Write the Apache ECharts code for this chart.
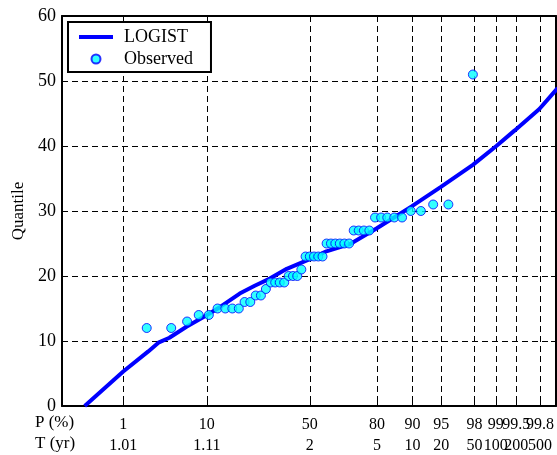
<!DOCTYPE html>
<html>
<head>
<meta charset="utf-8">
<script src="https://cdn.jsdelivr.net/npm/echarts@6/dist/echarts.min.js"></script>
<style>
  html, body { margin: 0; padding: 0; background: #fff; }
  #chart { width: 557px; height: 455px; }
</style>
</head>
<body>
<div id="chart"></div>
<script>
// probability ticks
var probTicks = [1, 10, 50, 80, 90, 95, 98, 99, 99.5, 99.8];
var probLabels = ['1', '10', '50', '80', '90', '95', '98', '99', '99.5', '99.8'];
var periodLabels = ['1.01', '1.11', '2', '5', '10', '20', '50', '100', '200', '500'];

// fitted LOGIST curve (P in %, quantile)
var curveP = [0.25, 1.0, 2.2, 3.0, 4.0, 6.2, 10, 13.1, 19.1, 24.6, 30.9, 38.7, 50,
  58.2, 69.1, 79.7, 89.8, 94.9, 97.9, 99.0, 99.47, 99.79, 99.9];
var curveQ = [0, 5.3, 8.4, 9.8, 10.5, 12.2, 14.0, 15.2, 17.3, 18.5, 19.6, 21.1, 22.6,
  23.8, 24.9, 27.3, 30.7, 33.7, 37.1, 40.0, 42.4, 45.7, 48.9];

// observed points (P in %, quantile)
var obsP = [2.1, 4.2, 6.3, 8.3, 10.4, 12.5, 14.6, 16.7, 18.8, 20.8, 22.9, 25.0, 27.1,
  29.2, 31.3, 33.3, 35.4, 37.5, 39.6, 41.7, 43.8, 45.8, 47.9, 50.0, 52.1, 54.2, 56.3,
  58.3, 60.4, 62.5, 64.6, 66.7, 68.8, 70.8, 72.9, 75.0, 77.1, 79.2, 81.3, 83.3, 85.4,
  87.5, 89.6, 91.7, 93.8, 95.8, 97.9];
var obsQ = [12, 12, 13, 14, 14, 15, 15, 15, 15, 16, 16, 17, 17, 18, 19, 19, 19, 19,
  20, 20, 20, 21, 23, 23, 23, 23, 23, 25, 25, 25, 25, 25, 25, 27, 27, 27, 27, 29, 29,
  29, 29, 29, 30, 30, 31, 31, 51];

// normal probability scale (inverse normal cdf, Acklam)
function norminv(p) {
  var a = [-3.969683028665376e+01, 2.209460984245205e+02, -2.759285104469687e+02,
    1.383577518672690e+02, -3.066479806614716e+01, 2.506628277459239e+00];
  var b = [-5.447609879822406e+01, 1.615858368580409e+02, -1.556989798598866e+02,
    6.680131188771972e+01, -1.328068155288572e+01];
  var c = [-7.784894002430293e-03, -3.223964580411365e-01, -2.400758277161838e+00,
    -2.549732539343734e+00, 4.374664141464968e+00, 2.938163982698783e+00];
  var d = [7.784695709041462e-03, 3.224671290700398e-01, 2.445134137142996e+00,
    3.754408661907416e+00];
  var plow = 0.02425, q, r;
  if (p < plow) {
    q = Math.sqrt(-2 * Math.log(p));
    return (((((c[0] * q + c[1]) * q + c[2]) * q + c[3]) * q + c[4]) * q + c[5]) /
      ((((d[0] * q + d[1]) * q + d[2]) * q + d[3]) * q + 1);
  }
  if (p > 1 - plow) {
    q = Math.sqrt(-2 * Math.log(1 - p));
    return -(((((c[0] * q + c[1]) * q + c[2]) * q + c[3]) * q + c[4]) * q + c[5]) /
      ((((d[0] * q + d[1]) * q + d[2]) * q + d[3]) * q + 1);
  }
  q = p - 0.5; r = q * q;
  return (((((a[0] * r + a[1]) * r + a[2]) * r + a[3]) * r + a[4]) * r + a[5]) * q /
    (((((b[0] * r + b[1]) * r + b[2]) * r + b[3]) * r + b[4]) * r + 1);
}
function z(pc) { return norminv(pc / 100); }

var tickZ = probTicks.map(z);
var evenZ = tickZ.filter(function (t, i) { return i % 2 === 0; });
var oddZ = tickZ.filter(function (t, i) { return i % 2 === 1; });
var curveData = curveP.map(function (p, i) { return [z(p), curveQ[i]]; });
var obsData = obsP.map(function (p, i) { return [z(p), obsQ[i]]; });

var font = 'Liberation Serif';
var black = '#000';
var dashed = { color: black, width: 1, type: [6, 4] };
var zMin = -3.09, zMax = 3.07;

function tickLabel(v) {
  var k = 0, best = 1e9;
  tickZ.forEach(function (t, j) { if (Math.abs(t - v) < best) { best = Math.abs(t - v); k = j; } });
  return '{p|' + probLabels[k] + '}\n{t|' + periodLabels[k] + '}';
}
var labelRich = {
  p: { fontFamily: font, fontSize: 16, color: black, lineHeight: 21 },
  t: { fontFamily: font, fontSize: 16, color: black, lineHeight: 21 }
};
var gridBox = { left: 62, top: 16, right: 1, bottom: 49 };

var chart = echarts.init(document.getElementById('chart'));
chart.setOption({
  animation: false,
  grid: [gridBox, gridBox],
  legend: {
    left: 68, top: 22, orient: 'vertical',
    backgroundColor: '#fff', borderColor: black, borderWidth: 2, borderRadius: 0,
    padding: [6, 18, 4, 11], itemGap: 4, itemWidth: 34, itemHeight: 9,
    textStyle: { fontFamily: font, fontSize: 18, color: black, lineHeight: 18, padding: [0, 0, 0, 6] },
    data: [
      { name: 'LOGIST', icon: 'path://M0,0h34v4H0z' },
      { name: 'Observed', icon: 'circle' }
    ]
  },
  xAxis: [{
    type: 'value', min: zMin, max: zMax,
    axisLine: { onZero: false, lineStyle: { color: black, width: 2 } },
    axisTick: { inside: true, length: 5, customValues: tickZ, lineStyle: { color: black } },
    splitLine: { show: true, lineStyle: dashed },
    axisLabel: {
      customValues: evenZ, margin: 8, showMinLabel: true, showMaxLabel: true,
      formatter: tickLabel, rich: labelRich
    }
  }, {
    type: 'value', position: 'top', min: zMin, max: zMax,
    axisLine: { onZero: false, lineStyle: { color: black, width: 2 } },
    axisTick: { inside: true, length: 5, customValues: tickZ, lineStyle: { color: black } },
    axisLabel: { show: false, customValues: tickZ },
    splitLine: { show: false }
  }, {
    // second label row set (odd ticks), overlaid on the bottom axis
    gridIndex: 1, type: 'value', position: 'bottom', min: zMin, max: zMax,
    axisLine: { show: false }, axisTick: { show: false }, splitLine: { show: false },
    axisLabel: {
      customValues: oddZ, margin: 8, showMinLabel: true, showMaxLabel: true,
      formatter: tickLabel, rich: labelRich
    }
  }],
  yAxis: [{
    type: 'value', min: 0, max: 60, interval: 10,
    name: 'Quantile', nameLocation: 'middle', nameGap: 31,
    nameTextStyle: { fontFamily: font, fontSize: 17, color: black },
    axisLine: { onZero: false, lineStyle: { color: black, width: 2 } },
    axisTick: { inside: true, length: 5, lineStyle: { color: black } },
    axisLabel: { fontFamily: font, fontSize: 18, color: black, margin: 6 },
    splitLine: { show: true, lineStyle: dashed }
  }, {
    type: 'value', position: 'right', min: 0, max: 60, interval: 10,
    axisLine: { onZero: false, lineStyle: { color: black, width: 2 } },
    axisTick: { inside: true, length: 5, lineStyle: { color: black } },
    axisLabel: { show: false },
    splitLine: { show: false }
  }, {
    gridIndex: 1, type: 'value', min: 0, max: 60, show: false
  }],
  graphic: [
    { type: 'text', left: 35, top: 414, style: { text: 'P (%)', font: '17px ' + font, fill: black } },
    { type: 'text', left: 35, top: 435, style: { text: 'T (yr)', font: '17px ' + font, fill: black } }
  ],
  series: [{
    name: 'LOGIST', type: 'line', data: curveData, showSymbol: false, symbol: 'none',
    lineStyle: { color: '#0000ff', width: 4 }, itemStyle: { color: '#0000ff' }, z: 3
  }, {
    name: 'Observed', type: 'scatter', data: obsData, symbol: 'circle', symbolSize: 9,
    itemStyle: { color: '#00ffff', borderColor: '#0000ff', borderWidth: 1 }, z: 4
  }]
});
</script>
</body>
</html>
